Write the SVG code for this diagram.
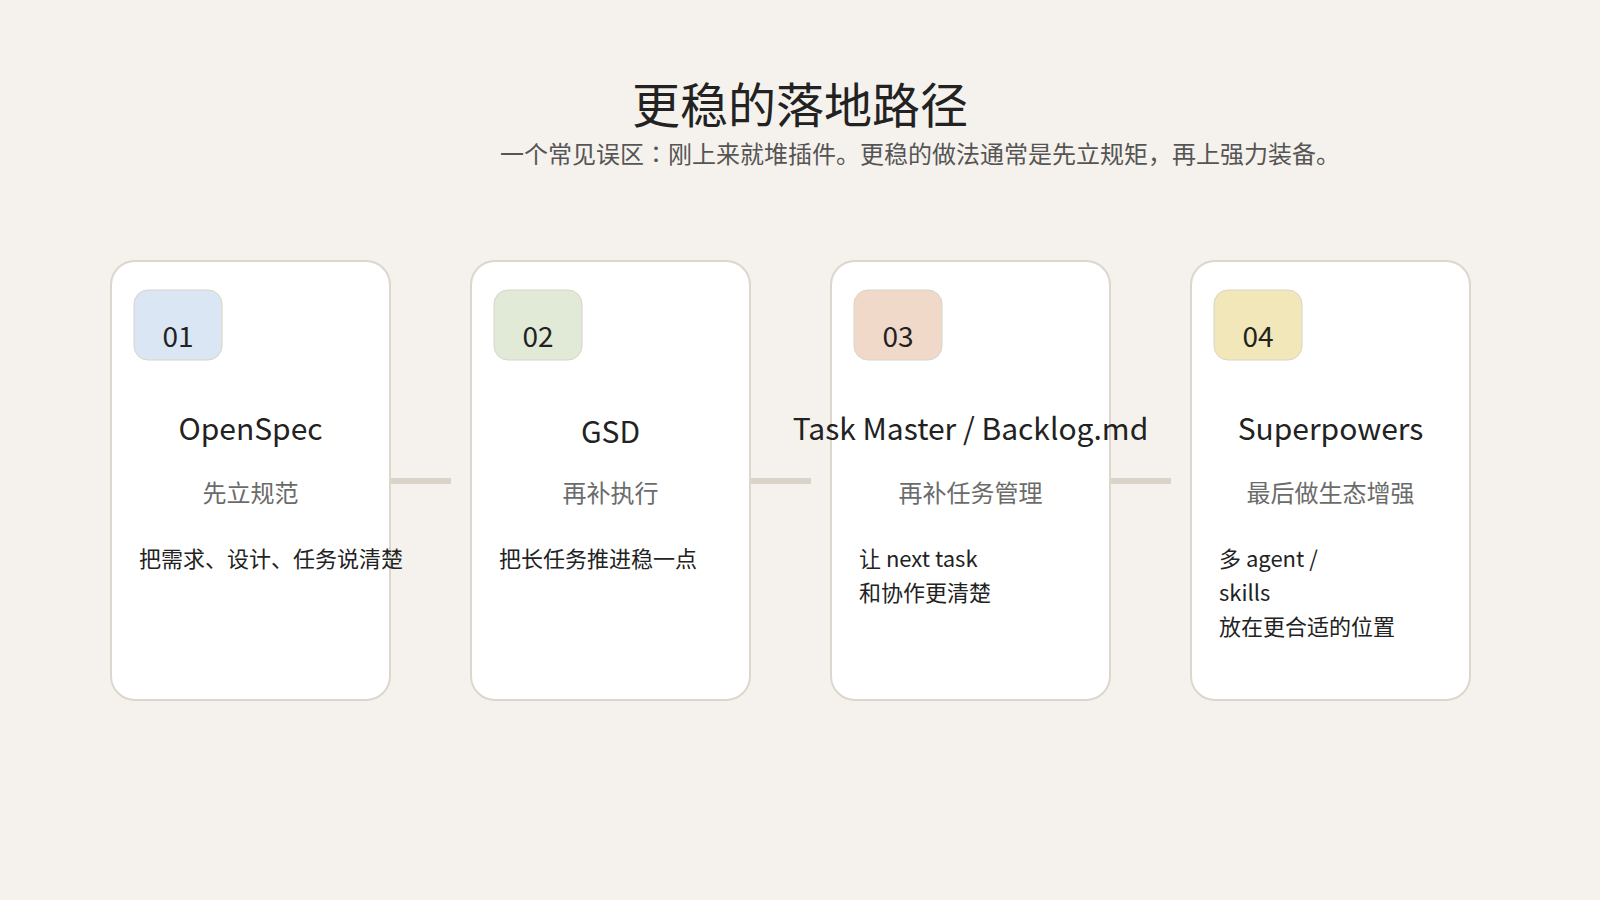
<svg xmlns="http://www.w3.org/2000/svg" width="1600" height="900" viewBox="0 0 1600 900">
<style>
text { font-family: "Noto Sans CJK SC", "Noto Sans", sans-serif; }
.card { fill: #ffffff; stroke: #ddd6cc; stroke-width: 2; }
.badge { stroke: #d9d4c8; stroke-width: 1; }
.num { font-size: 28px; fill: #222; text-anchor: middle; }
.title { font-size: 30px; fill: #222; text-anchor: middle; }
.sub { font-size: 24px; fill: #6b6b6b; text-anchor: middle; }
.desc { font-size: 22px; fill: #222; }
.conn { stroke: #d9d3c9; stroke-width: 6; fill: none; }
</style>
<rect x="0" y="0" width="1600" height="900" fill="#f5f2ed"/>
<text x="800" y="123" font-size="48" fill="#222" text-anchor="middle">更稳的落地路径</text>
<text x="500" y="163" font-size="24" fill="#555">一个常见误区<tspan font-family="Noto Sans CJK JP, sans-serif">：</tspan>刚上来就堆插件。更稳的做法通常是先立规矩，再上强力装备。</text>
<g id="connectors">
<line class="conn" x1="391" y1="481" x2="451" y2="481"/>
<line class="conn" x1="751" y1="481" x2="811" y2="481"/>
<line class="conn" x1="1111" y1="481" x2="1171" y2="481"/>
</g>
<g id="step1">
<rect class="card" x="111" y="261" width="279" height="439" rx="24"/>
<rect class="badge" x="134" y="290" width="88" height="70" rx="14" fill="#dae6f3"/>
<text class="num" x="178" y="347">01</text>
<text class="title" x="250.5" y="440">OpenSpec</text>
<text class="sub" x="250.5" y="502">先立规范</text>
<text class="desc" x="139" y="567">把需求、设计、任务说清楚</text>
</g>
<g id="step2">
<rect class="card" x="471" y="261" width="279" height="439" rx="24"/>
<rect class="badge" x="494" y="290" width="88" height="70" rx="14" fill="#e0ead6"/>
<text class="num" x="538" y="347">02</text>
<text class="title" x="610.5" y="443">GSD</text>
<text class="sub" x="610.5" y="502">再补执行</text>
<text class="desc" x="499" y="567">把长任务推进稳一点</text>
</g>
<g id="step3">
<rect class="card" x="831" y="261" width="279" height="439" rx="24"/>
<rect class="badge" x="854" y="290" width="88" height="70" rx="14" fill="#f0d9c8"/>
<text class="num" x="898" y="347">03</text>
<text class="title" x="970.5" y="440">Task Master / Backlog.md</text>
<text class="sub" x="970.5" y="502">再补任务管理</text>
<text class="desc" x="859" y="567">让 next task</text>
<text class="desc" x="859" y="601">和协作更清楚</text>
</g>
<g id="step4">
<rect class="card" x="1191" y="261" width="279" height="439" rx="24"/>
<rect class="badge" x="1214" y="290" width="88" height="70" rx="14" fill="#f1e7b8"/>
<text class="num" x="1258" y="347">04</text>
<text class="title" x="1330.5" y="440">Superpowers</text>
<text class="sub" x="1330.5" y="502">最后做生态增强</text>
<text class="desc" x="1219" y="567">多 agent /</text>
<text class="desc" x="1219" y="601">skills</text>
<text class="desc" x="1219" y="635">放在更合适的位置</text>
</g>
</svg>
